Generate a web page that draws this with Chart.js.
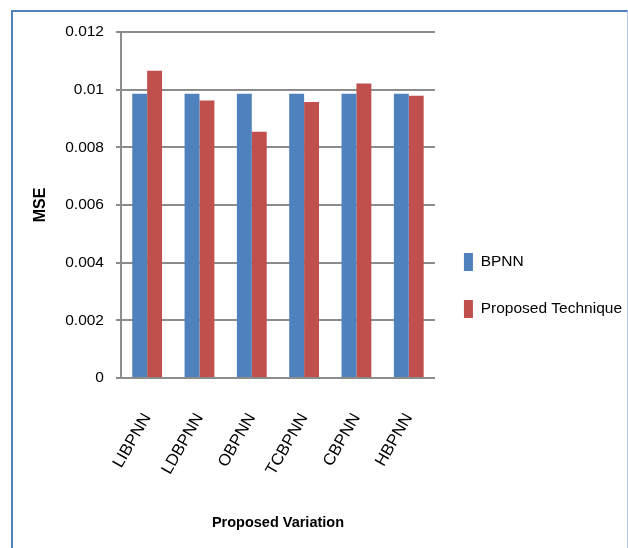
<!DOCTYPE html>
<html>
<head>
<meta charset="utf-8">
<script src="https://cdn.jsdelivr.net/npm/chart.js@4.4.1/dist/chart.umd.min.js"></script>
<style>
  html, body { margin: 0; padding: 0; background: #fff; }
  #wrap { position: relative; width: 628px; height: 548px; overflow: hidden; }
  #frame { position: absolute; left: 11px; top: 10px; width: 614px; height: 600px;
           border-left: 2px solid #4f81bd; border-top: 2px solid #4f81bd; border-right: 1px solid #b3c6e3; }
  canvas { position: absolute; left: 0; top: 0; }
</style>
</head>
<body>
<div id="wrap">
  <div id="frame"></div>
  <canvas id="chartMse" width="628" height="548"></canvas>
</div>
<script>
const variations = ['LIBPNN', 'LDBPNN', 'OBPNN', 'TCBPNN', 'CBPNN', 'HBPNN'];
const bpnn       = [0.00986, 0.00986, 0.00986, 0.00986, 0.00986, 0.00986];
const proposed   = [0.01066, 0.00962, 0.00854, 0.00957, 0.01021, 0.00979];
const yMax  = 0.012;
const yStep = 0.002;

const font = '"Liberation Sans", Arial, sans-serif';
const gridGrey = '#8c8c8c';

new Chart(document.getElementById('chartMse'), {
  type: 'bar',
  data: {
    labels: variations,
    datasets: [
      { label: 'BPNN', data: bpnn, backgroundColor: '#4f81bd', borderWidth: 0 },
      { label: 'Proposed Technique', data: proposed, backgroundColor: '#c0504d', borderWidth: 0 }
    ]
  },
  options: {
    responsive: false, animation: false,
    categoryPercentage: 0.57, barPercentage: 1,
    // legend overhangs the right edge a little so the plot keeps its width
    layout: { padding: { left: 31, top: 32, right: -4, bottom: 9 } },
    plugins: {
      tooltip: { enabled: false },
      legend: {
        position: 'right', align: 'center', maxWidth: 240,
        labels: { color: '#000', boxWidth: 9, boxHeight: 18, padding: 29, font: { family: font, size: 15.5 } }
      }
    },
    scales: {
      x: {
        grid: { display: false, drawTicks: false },
        border: { color: gridGrey, width: 2 },
        ticks: { color: '#000', minRotation: 60, maxRotation: 60, padding: 32, font: { family: font, size: 16.5 } },
        title: { display: true, text: 'Proposed Variation', color: '#000', padding: { top: 4, bottom: 7 },
                 font: { family: font, size: 14.5, weight: 'bold' } }
      },
      y: {
        min: 0, max: yMax,
        grid: { color: gridGrey, lineWidth: 2, tickLength: 5 },
        border: { color: gridGrey, width: 2 },
        ticks: { stepSize: yStep, color: '#000', padding: 12, font: { family: font, size: 15.5 },
                 callback: v => String(+v.toFixed(3)) },
        title: { display: true, text: 'MSE', color: '#000', padding: { top: 0, bottom: 3 },
                 font: { family: font, size: 16, weight: 'bold' } }
      }
    }
  }
});
</script>
</body>
</html>
